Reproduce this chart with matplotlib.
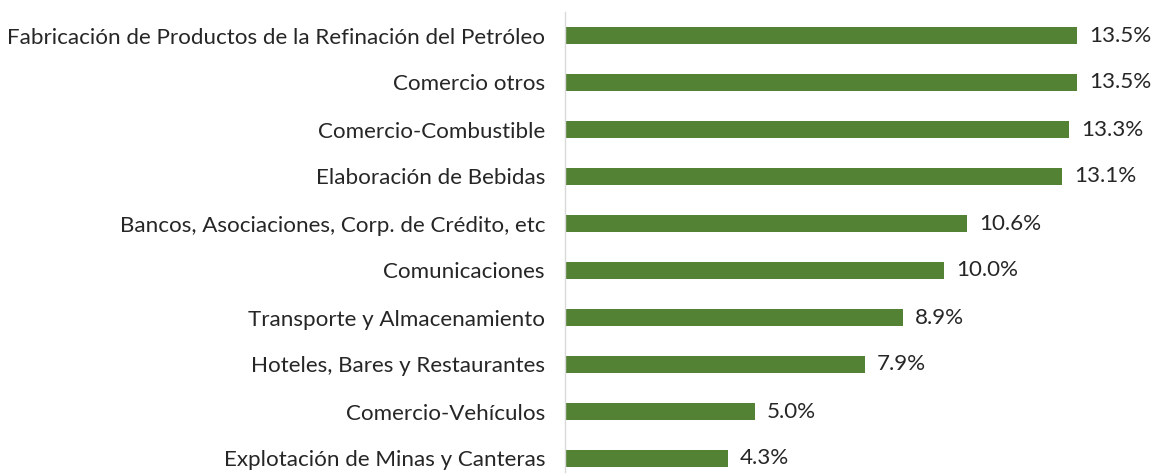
import matplotlib
matplotlib.use("Agg")
import matplotlib.pyplot as plt

categories = [
    "Fabricación de Productos de la Refinación del Petróleo",
    "Comercio otros",
    "Comercio-Combustible",
    "Elaboración de Bebidas",
    "Bancos, Asociaciones, Corp. de Crédito, etc",
    "Comunicaciones",
    "Transporte y Almacenamiento",
    "Hoteles, Bares y Restaurantes",
    "Comercio-Vehículos",
    "Explotación de Minas y Canteras",
]
values = [13.5, 13.5, 13.3, 13.1, 10.6, 10.0, 8.9, 7.9, 5.0, 4.3]
value_labels = ["13.5%", "13.5%", "13.3%", "13.1%", "10.6%", "10.0%", "8.9%", "7.9%", "5.0%", "4.3%"]

W, H = 1156, 475
fig = plt.figure(figsize=(W / 100, H / 100), dpi=100)
ax_left, ax_right = 565, 1150
ax_top, ax_bot = 12, 472
ax = fig.add_axes([ax_left / W, 1 - ax_bot / H, (ax_right - ax_left) / W, (ax_bot - ax_top) / H])

green = "#548235"
ypos = list(range(len(categories)))
ax.barh(ypos, values, height=0.36, color=green)

px_per_unit = 37.93
ax.set_xlim(0, (ax_right - ax_left) / px_per_unit)
row_px = 47.0
top_units = (35.5 - ax_top) / row_px
ax.set_ylim(-top_units + (ax_bot - ax_top) / row_px, -top_units)

font = "Lato"
fs = 12.6
ax.set_yticks(ypos)
ax.set_yticklabels(categories, fontsize=fs, family=font, color="#262626")
ax.tick_params(axis="y", length=0, pad=14.4)
ax.set_xticks([])
for s in ["top", "right", "bottom"]:
    ax.spines[s].set_visible(False)
ax.spines["left"].set_color("#d9d9d9")
ax.spines["left"].set_linewidth(1.0)

for y, v, lab in zip(ypos, values, value_labels):
    ax.annotate(lab, (v, y), xytext=(8.6, 0), textcoords="offset points",
                va="center", ha="left", fontsize=fs, family=font, color="#262626")

# fit label font size so the longest label spans ~537 px
fig.canvas.draw()
r = fig.canvas.get_renderer()
lbl = ax.get_yticklabels()[0]
wpx = lbl.get_window_extent(r).width
scale = 537.0 / wpx
newfs = fs * scale
for t in ax.get_yticklabels():
    t.set_fontsize(newfs)
for t in ax.texts:
    t.set_fontsize(newfs)

fig.savefig("out.png", dpi=100)
